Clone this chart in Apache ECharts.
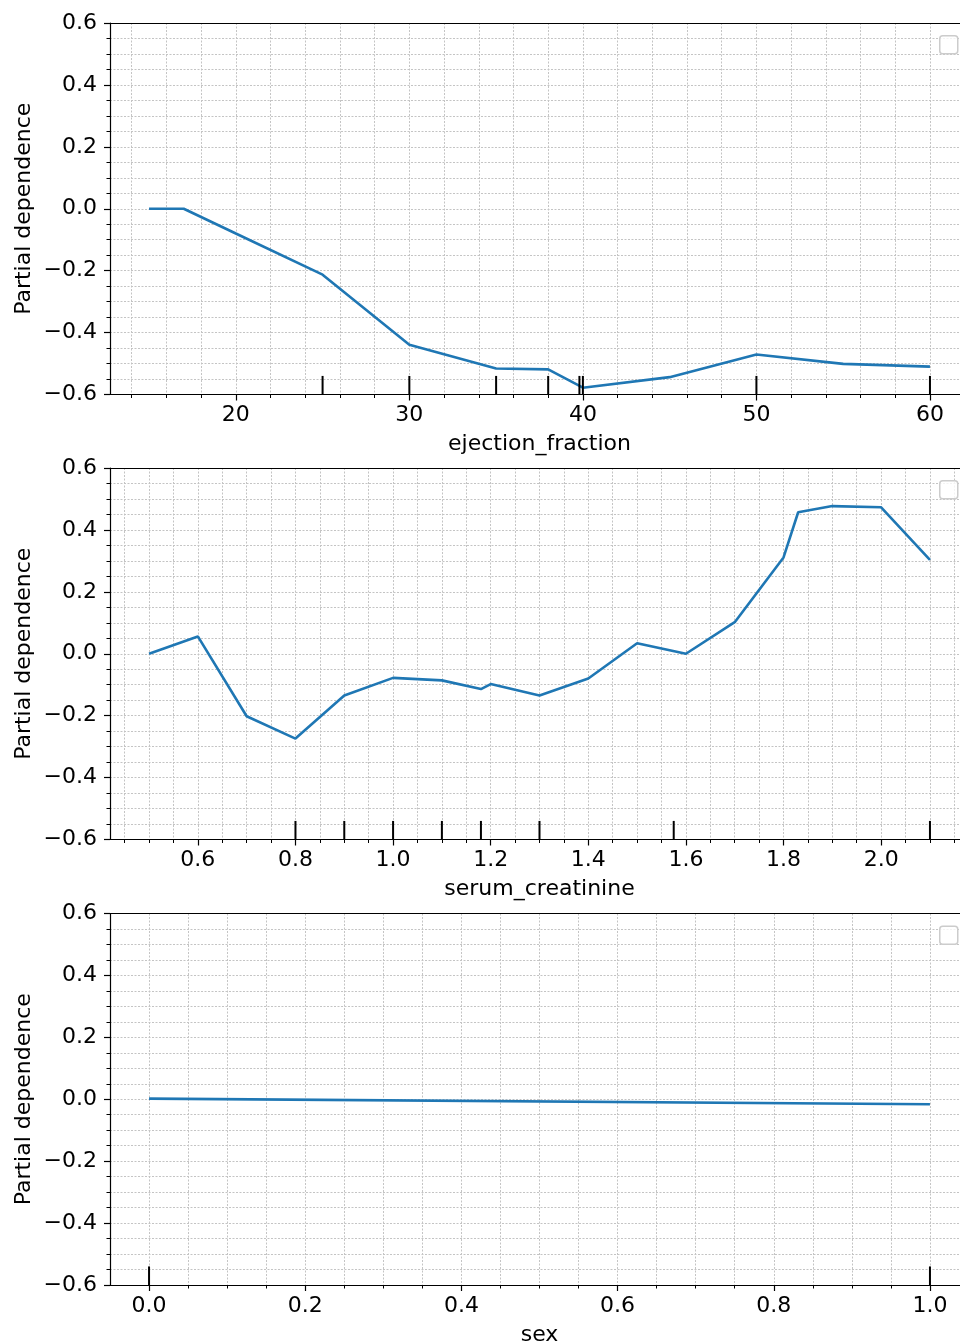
<!DOCTYPE html>
<html>
<head>
<meta charset="utf-8">
<script src="https://cdn.jsdelivr.net/npm/echarts@6/dist/echarts.min.js"></script>
<style>
  html, body { margin: 0; padding: 0; background: #fff; }
  #main { width: 960px; height: 1343px; }
</style>
</head>
<body>
<div id="main"></div>
<script>
// partial dependence curves (grid values + averaged prediction)
var efX = [15, 17, 20, 25, 30, 35, 38, 40, 45, 50, 55, 60];
var efY = [0.0, 0.0, -0.08, -0.213, -0.439, -0.516, -0.519, -0.578, -0.544, -0.471, -0.501, -0.510];
var efDeciles = [25, 30, 35, 38, 39.8, 40, 50, 60];

var scX = [0.5, 0.6, 0.7, 0.8, 0.9, 1.0, 1.1, 1.18, 1.2, 1.3, 1.4, 1.5, 1.6, 1.7, 1.8, 1.83, 1.9, 2.0, 2.1];
var scY = [0.0, 0.056, -0.202, -0.274, -0.135, -0.078, -0.086, -0.114, -0.098, -0.135, -0.08, 0.034, 0.0, 0.102, 0.311, 0.457, 0.477, 0.473, 0.303];
var scDeciles = [0.8, 0.9, 1.0, 1.1, 1.18, 1.3, 1.575, 2.1];

var sexX = [0, 1];
var sexY = [0.002, -0.016];
var sexDeciles = [0, 1];

// tick labels
var yTicks = [-0.6, -0.4, -0.2, 0.0, 0.2, 0.4, 0.6];
var efTicks = [20, 30, 40, 50, 60];
var scTicks = [0.6, 0.8, 1.0, 1.2, 1.4, 1.6, 1.8, 2.0];
var sexTicks = [0.0, 0.2, 0.4, 0.6, 0.8, 1.0];

var FONT = 'DejaVu Sans';
var BLUE = '#1f77b4';
var GRID_LINE = { show: true, lineStyle: { color: '#c4c4c4', type: [2, 1.5], width: 1 } };

function pairs(xs, ys) {
    return xs.map(function (x, i) { return [x, ys[i]]; });
}

// minor tick positions (layout only)
function steps(from, to, step) {
    var out = [];
    for (var v = from; v <= to + 1e-9; v += step) out.push(Math.round(v * 1000) / 1000);
    return out;
}

function fmt1(v) {
    var s = Math.abs(v).toFixed(1);
    return v < -1e-9 ? '\u2212' + s : s;
}
function fmt0(v) {
    return String(Math.round(v));
}

var panels = [
    { name: 'ejection_fraction', x: efX, y: efY, dec: efDeciles, ticks: efTicks, fmt: fmt0, min: 12.75, max: 62.25, minor: steps(14, 62, 2), top: 23 },
    { name: 'serum_creatinine', x: scX, y: scY, dec: scDeciles, ticks: scTicks, fmt: fmt1, min: 0.42, max: 2.18, minor: steps(0.45, 2.15, 0.05), top: 468 },
    { name: 'sex', x: sexX, y: sexY, dec: sexDeciles, ticks: sexTicks, fmt: fmt1, min: -0.05, max: 1.05, minor: steps(0, 1.0, 0.05), top: 913.5 }
];

var grid = [], xAxis = [], yAxis = [], series = [], graphic = [];

panels.forEach(function (p, i) {
    // plot area runs past the right edge of the picture (to x=969)
    grid.push({
        left: 110, width: 859, top: p.top, height: 371.5,
        outerBoundsMode: 'none', containLabel: false
    });

    // main x axis: major ticks + labels
    xAxis.push({
        type: 'value', gridIndex: i, position: 'bottom', min: p.min, max: p.max,
        name: p.name, nameLocation: 'middle', nameGap: 39,
        nameTextStyle: { fontFamily: FONT, fontSize: 22, color: '#000' },
        axisLine: { show: true, onZero: false, lineStyle: { color: '#000', width: 1.2 } },
        axisTick: { show: true, customValues: p.ticks, length: 6, lineStyle: { color: '#000', width: 1.2 } },
        axisLabel: { customValues: p.ticks, margin: 10, fontFamily: FONT, fontSize: 22, color: '#000', formatter: p.fmt },
        splitLine: { show: false }
    });
    // overlay x axis: minor ticks + vertical grid
    xAxis.push({
        type: 'value', gridIndex: i, position: 'bottom', min: p.min, max: p.max,
        axisLine: { show: false, onZero: false },
        axisTick: { show: true, customValues: p.minor, length: 3.5, lineStyle: { color: '#000', width: 1 } },
        axisLabel: { show: false },
        splitLine: GRID_LINE
    });
    // top spine
    xAxis.push({
        type: 'value', gridIndex: i, position: 'top', min: p.min, max: p.max,
        axisLine: { show: true, onZero: false, lineStyle: { color: '#000', width: 1.2 } },
        axisTick: { show: false }, axisLabel: { show: false }, splitLine: { show: false }
    });

    yAxis.push({
        type: 'value', gridIndex: i, min: -0.6, max: 0.6, interval: 0.2,
        name: 'Partial dependence', nameLocation: 'middle', nameGap: 75, nameRotate: 90,
        nameMoveOverlap: false,
        nameTextStyle: { fontFamily: FONT, fontSize: 22, color: '#000' },
        axisLine: { show: true, onZero: false, lineStyle: { color: '#000', width: 1.2 } },
        axisTick: { show: true, length: 6, lineStyle: { color: '#000', width: 1.2 } },
        minorTick: { show: true, splitNumber: 4, length: 3.5, lineStyle: { color: '#000', width: 1 } },
        axisLabel: { margin: 13, padding: [3, 0, 0, 0], fontFamily: FONT, fontSize: 22, color: '#000', formatter: fmt1 },
        splitLine: GRID_LINE,
        minorSplitLine: GRID_LINE
    });

    series.push({
        type: 'line', xAxisIndex: i * 3, yAxisIndex: i,
        data: pairs(p.x, p.y), showSymbol: false, symbol: 'none',
        lineStyle: { color: BLUE, width: 2.6 }, z: 3
    });

    // decile rug marks along the bottom (5% of axes height)
    series.push({
        type: 'custom', xAxisIndex: i * 3, yAxisIndex: i,
        data: p.dec.map(function (d) { return [d, -0.6]; }),
        renderItem: function (params, api) {
            var a = api.coord([api.value(0), -0.6]);
            var b = api.coord([api.value(0), -0.54]);
            return { type: 'line', shape: { x1: a[0], y1: a[1], x2: b[0], y2: b[1] }, style: { stroke: '#000', lineWidth: 2 } };
        },
        z: 4
    });

    // empty legend frame
    graphic.push({
        type: 'rect', left: 939, top: p.top + 12,
        shape: { width: 18, height: 18, r: 3 },
        style: { fill: 'rgba(255,255,255,0.8)', stroke: '#cccccc', lineWidth: 1.5 }, z: 10
    });
});

var myChart = echarts.init(document.getElementById('main'));
var option = {
    animation: false,
    backgroundColor: '#fff',
    grid: grid,
    xAxis: xAxis,
    yAxis: yAxis,
    series: series,
    graphic: graphic
};
myChart.setOption(option);
</script>
</body>
</html>
